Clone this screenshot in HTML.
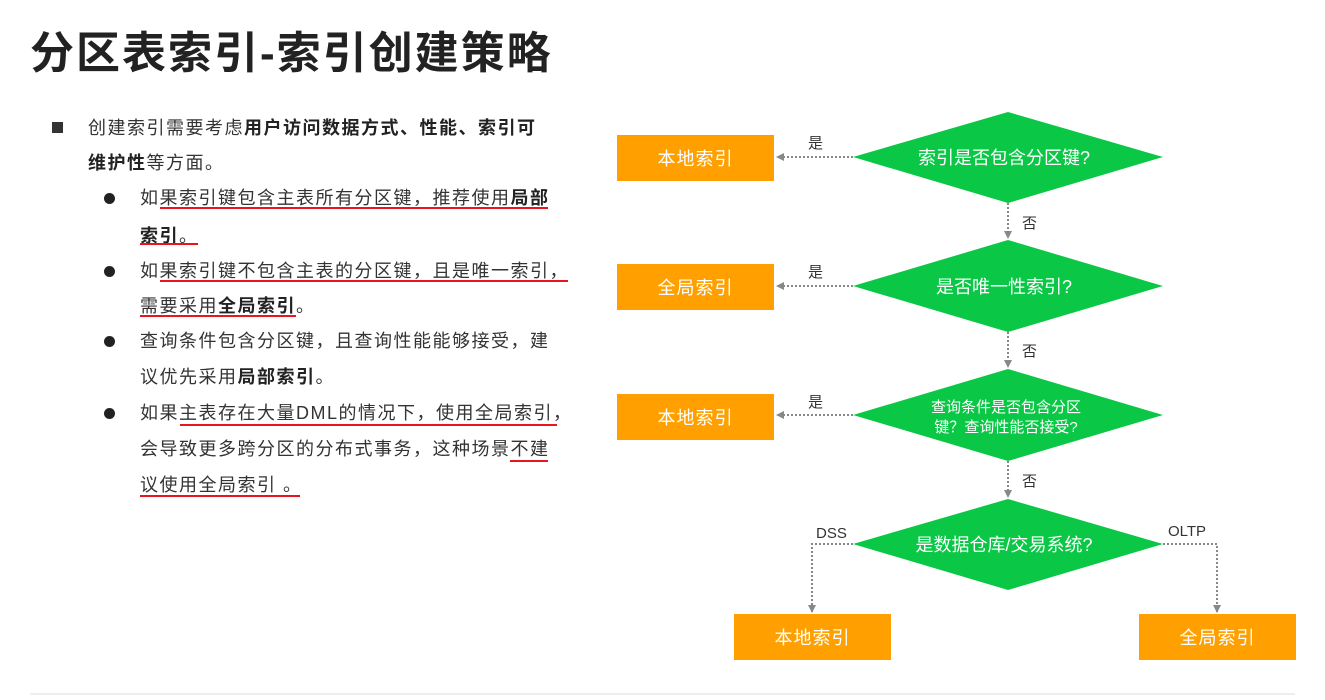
<!DOCTYPE html>
<html><head><meta charset="utf-8"><style>
body{margin:0;width:1325px;height:700px;background:#fff;position:relative;overflow:hidden;font-family:"Liberation Sans","Noto Sans CJK SC",sans-serif;color:#333}
.a{position:absolute;white-space:nowrap}
.t{font-size:18px;letter-spacing:1.5px;line-height:24px}
b{font-weight:bold;color:#222}
.u{position:absolute;height:2px;background:#e8141e}
.dot{position:absolute;width:11px;height:11px;border-radius:50%;background:#222}
.box{position:absolute;background:#ffa000;color:#fff;font-size:18px;display:flex;align-items:center;justify-content:center;letter-spacing:1px}
</style></head><body>
<div class="a" style="left:30px;top:17px;font-size:44px;font-weight:bold;color:#222;letter-spacing:2px">分区表索引-索引创建策略</div>

<div class="a" style="left:52px;top:122px;width:11px;height:11px;background:#333"></div>
<div class="a t" style="left:88px;top:116px">创建索引需要考虑<b>用户访问数据方式、性能、索引可</b></div>
<div class="a t" style="left:88px;top:151px"><b>维护性</b>等方面。</div>

<div class="dot" style="left:104px;top:193px"></div>
<div class="a t" style="left:140px;top:186px">如果索引键包含主表所有分区键，推荐使用<b>局部</b></div>
<div class="a t" style="left:140px;top:224px"><b>索引</b>。</div>
<div class="dot" style="left:104px;top:266px"></div>
<div class="a t" style="left:140px;top:259px">如果索引键不包含主表的分区键，且是唯一索引，</div>
<div class="a t" style="left:140px;top:294px">需要采用<b>全局索引</b>。</div>
<div class="dot" style="left:104px;top:336px"></div>
<div class="a t" style="left:140px;top:329px">查询条件包含分区键，且查询性能能够接受，建</div>
<div class="a t" style="left:140px;top:365px">议优先采用<b>局部索引</b>。</div>
<div class="dot" style="left:104px;top:408px"></div>
<div class="a t" style="left:140px;top:401px">如果主表存在大量DML的情况下，使用全局索引，</div>
<div class="a t" style="left:140px;top:437px">会导致更多跨分区的分布式事务，这种场景不建</div>
<div class="a t" style="left:140px;top:473px">议使用全局索引 。</div>

<div class="u" style="left:160px;top:207px;width:388px"></div>
<div class="u" style="left:140px;top:243px;width:58px"></div>
<div class="u" style="left:160px;top:280px;width:408px"></div>
<div class="u" style="left:140px;top:315px;width:156px"></div>
<div class="u" style="left:180px;top:424px;width:377px"></div>
<div class="u" style="left:510px;top:460px;width:38px"></div>
<div class="u" style="left:140px;top:495px;width:160px"></div>

<svg class="a" style="left:0;top:0" width="1325" height="700">
<defs><marker id="ar" markerWidth="8" markerHeight="8" refX="7" refY="4" orient="auto" markerUnits="userSpaceOnUse"><path d="M0,0 L8,4 L0,8z" fill="#888"/></marker></defs>
<g fill="#0ac746">
<polygon points="1008,112 1163,157 1008,203 853,157"/>
<polygon points="1008,240 1163,286 1008,332 853,286"/>
<polygon points="1008,369 1163,415 1008,461 853,415"/>
<polygon points="1008,499 1163,544 1008,590 853,544"/>
</g>
<g stroke="#888" stroke-width="2" stroke-dasharray="2,2" fill="none" marker-end="url(#ar)">
<line x1="853" y1="157" x2="777" y2="157"/>
<line x1="853" y1="286" x2="777" y2="286"/>
<line x1="853" y1="415" x2="777" y2="415"/>
<line x1="1008" y1="203" x2="1008" y2="238"/>
<line x1="1008" y1="332" x2="1008" y2="367"/>
<line x1="1008" y1="461" x2="1008" y2="497"/>
<polyline points="853,544 812,544 812,612"/>
<polyline points="1163,544 1217,544 1217,612"/>
</g>
<g fill="#333" font-size="15" font-family="Liberation Sans,Noto Sans CJK SC,sans-serif">
<text x="808" y="148">是</text><text x="808" y="277">是</text><text x="808" y="407">是</text>
<text x="1022" y="228">否</text><text x="1022" y="356">否</text><text x="1022" y="486">否</text>
<text x="816" y="538">DSS</text><text x="1168" y="536">OLTP</text>
</g>
<g fill="#fff" font-size="18" text-anchor="middle" font-family="Liberation Sans,Noto Sans CJK SC,sans-serif">
<text x="1004" y="164">索引是否包含分区键?</text>
<text x="1004" y="293">是否唯一性索引?</text>
<text x="1004" y="551">是数据仓库/交易系统?</text>
<text x="1006" y="412" font-size="15">查询条件是否包含分区</text>
<text x="1006" y="432" font-size="15">键？查询性能否接受?</text>
</g>
<line x1="30" y1="694" x2="1295" y2="694" stroke="#ddd" stroke-width="1"/>
</svg>

<div class="box" style="left:617px;top:135px;width:157px;height:46px">本地索引</div>
<div class="box" style="left:617px;top:264px;width:157px;height:46px">全局索引</div>
<div class="box" style="left:617px;top:394px;width:157px;height:46px">本地索引</div>
<div class="box" style="left:734px;top:614px;width:157px;height:46px">本地索引</div>
<div class="box" style="left:1139px;top:614px;width:157px;height:46px">全局索引</div>
</body></html>
